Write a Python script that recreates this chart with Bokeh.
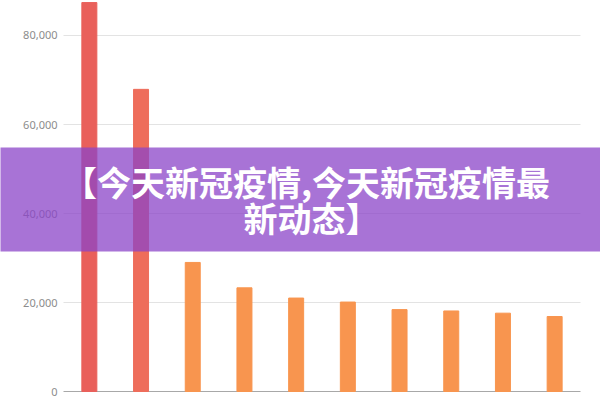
from bokeh.plotting import figure
from bokeh.models import ColumnDataSource, Range1d, BoxAnnotation, Label
from bokeh.core.properties import value
from bokeh.embed import file_html
from bokeh.resources import INLINE

# ---- data ----
positions = [0, 1, 2, 3, 4, 5, 6, 7, 8, 9]
values = [87400, 67900, 29000, 23300, 21000, 20100, 18400, 18100, 17600, 16850]
y_ticks = [0, 20000, 40000, 60000, 80000]
title_line1 = "【今天新冠疫情,今天新冠疫情最"
title_line2 = "新动态】"

# ---- styles ----
bar_colors = ["#E9605B", "#EE6D5B"] + ["#F8954F"] * 8

src = ColumnDataSource(dict(x=positions, top=values, color=bar_colors))

x_lo, x_hi = positions[0] - 0.5, positions[-1] + 0.5
p = figure(width=600, height=400, output_backend="svg", toolbar_location=None,
           x_range=Range1d(-1.7186, 9.887), y_range=Range1d(-2022, 87865),
           min_border_left=0, min_border_right=0, min_border_top=0, min_border_bottom=0)
p.outline_line_color = None
p.background_fill_color = "white"
p.border_fill_color = "white"
p.axis.visible = False
p.grid.visible = False

# grid lines across the plot area only
grid_src = ColumnDataSource(dict(
    y=y_ticks,
    x0=[x_lo] * len(y_ticks),
    x1=[x_hi] * len(y_ticks),
    color=["#a8a8a8" if t == 0 else "#e3e3e3" for t in y_ticks],
    label=[f"{t:,}" for t in y_ticks],
    lx=[x_lo - 0.116] * len(y_ticks),
))
p.segment(x0="x0", y0="y", x1="x1", y1="y", line_color="color", line_width=1, source=grid_src)
p.text(x="lx", y="y", text="label", text_align="right", text_baseline="middle",
       text_font=value("Noto Sans"), text_font_size="11px", text_color="#8c8c8c",
       source=grid_src)

p.vbar(x="x", top="top", bottom=0, width=0.29, color="color", source=src)

banner = BoxAnnotation(top=54830, bottom=31460, left=-3, right=12,
                       fill_color="#8B44C8", fill_alpha=0.75, line_color=None,
                       level="overlay")
p.add_layout(banner)

for txt, xv, yv in [(title_line1, 4.20, 47300), (title_line2, 4.297, 39100)]:
    p.add_layout(Label(x=xv, y=yv, text=txt, text_align="center", text_baseline="middle",
                       text_font="Noto Sans CJK SC", text_font_style="bold",
                       text_font_size="34px", text_color="white", level="overlay"))

open("out.html", "w").write(file_html(p, INLINE))
